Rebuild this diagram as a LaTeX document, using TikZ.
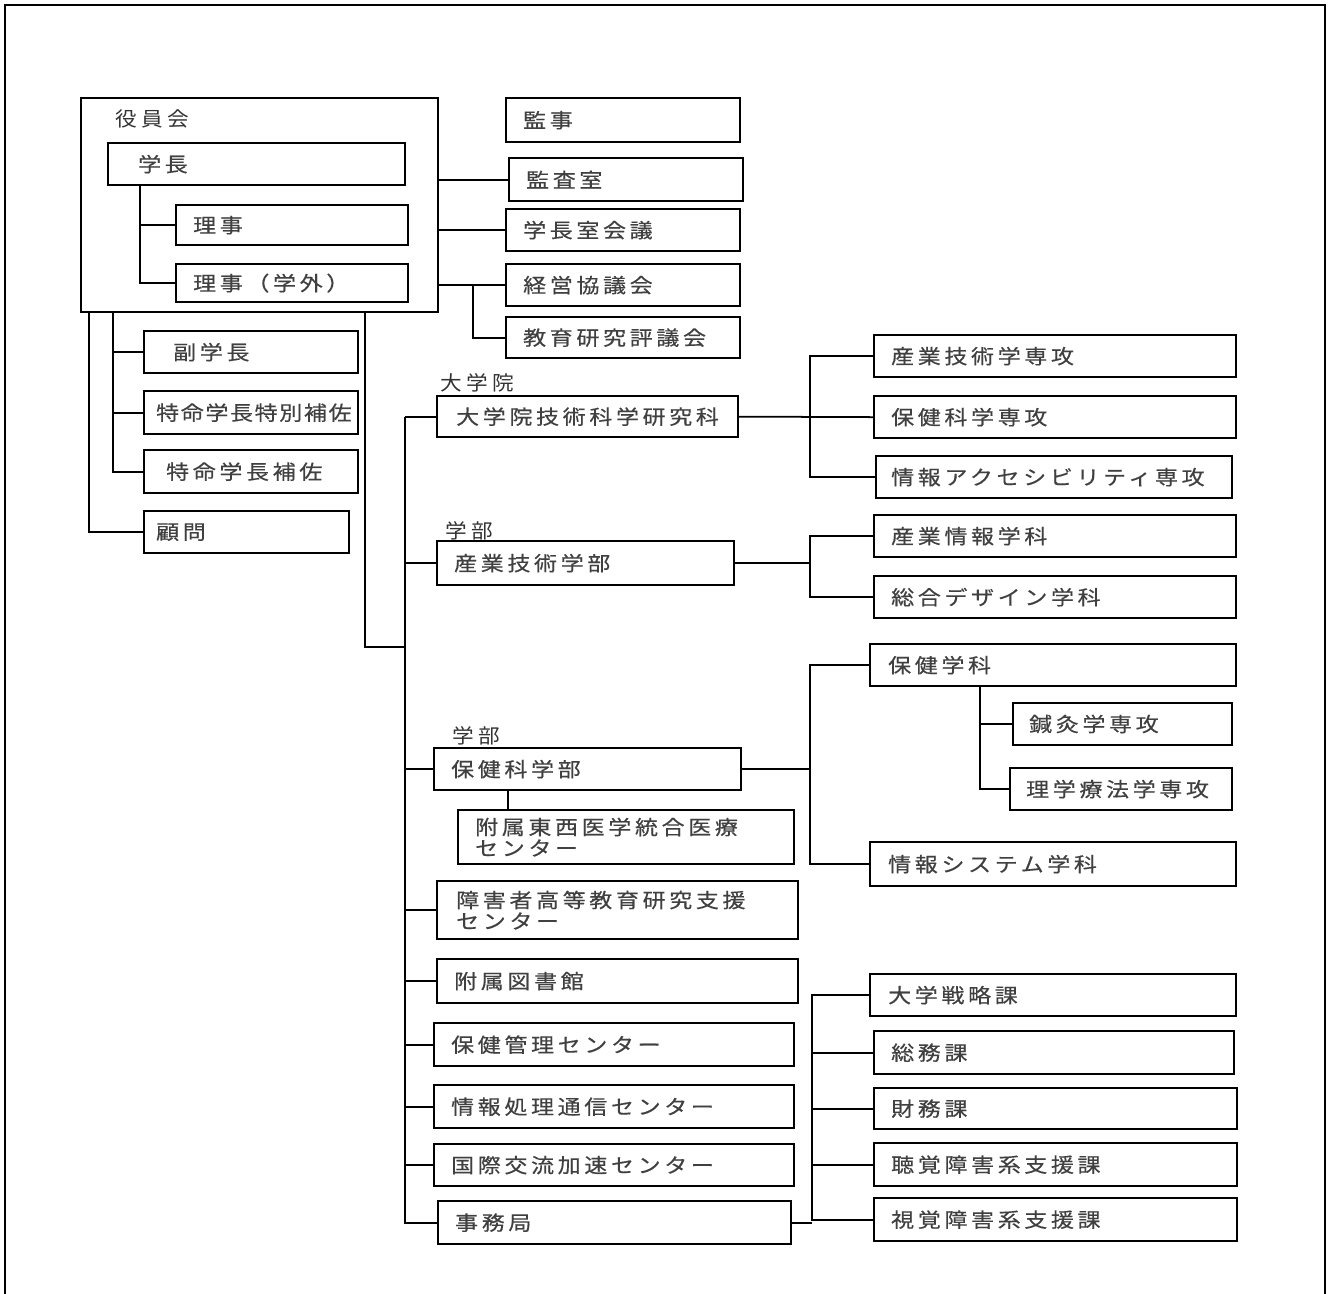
\documentclass[tikz,border=0pt]{standalone}
\usepackage{fontspec}
\newfontfamily\jp[LetterSpace=18, FakeStretch=1.15, FakeBold=0.4]{Noto Sans CJK JP}
\newfontfamily\jpn[LetterSpace=8, FakeStretch=1.15, FakeBold=0.4]{Noto Sans CJK JP}
\newfontfamily\jptag[LetterSpace=22, FakeStretch=1.08]{Noto Sans CJK JP}
\tikzset{
  orgbox/.style={draw, line width=1.3pt, anchor=north west, inner xsep=0.34cm, inner ysep=0pt,
    minimum height=0.84cm, text width=#1, align=left, text=black!75,
    font=\jp\fontsize{11.4pt}{12pt}\selectfont},
  outerbox/.style={draw, line width=1.3pt, anchor=north west},
  tag/.style={anchor=west, inner sep=0pt, text=black!80, font=\jptag\fontsize{11.4pt}{12pt}\selectfont},
  link/.style={line width=1pt}
}
\begin{document}
\begin{tikzpicture}[x=0.02cm, y=-0.02cm]
\useasboundingbox (0,0) rectangle (1328,1294);
\draw[line width=1.1pt] (5,1294) -- (5,5) -- (1325,5) -- (1325,1294);

% executive board
\node[outerbox, minimum width=7.14cm, minimum height=4.28cm] (yakuin) at (80,97) {};
\node[tag] (yakuintag) at (115,119) {役員会};
\node[orgbox=4.74cm, inner xsep=0.6cm] (gakucho) at (107,142) {学長};
\node[orgbox=3.96cm, minimum height=0.80cm] (riji) at (175,204) {理事};
\node[orgbox=3.96cm, minimum height=0.76cm] (gakugai) at (175,263) {理事（学外）};

\node[orgbox=4.00cm, minimum height=0.88cm] (kanji) at (505,97) {監事};
\node[orgbox=4.00cm, minimum height=0.86cm] (kansashitsu) at (508,157) {監査室};
\node[orgbox=4.00cm] (gakuchoshitsu) at (505,208) {学長室会議};
\node[orgbox=4.00cm] (keiei) at (505,263) {経営協議会};
\node[orgbox=4.00cm, minimum height=0.82cm] (kyoiku) at (505,316) {教育研究評議会};

\node[orgbox=3.12cm, inner xsep=0.58cm] (fuku) at (143,330) {副学長};
\node[orgbox=3.80cm, inner xsep=0.24cm, minimum height=0.86cm,
  font=\jpn\fontsize{11.4pt}{12pt}\selectfont] (tokubetsu) at (143,390) {特命学長特別補佐};
\node[orgbox=3.40cm, inner xsep=0.44cm, minimum height=0.86cm] (tokumei) at (143,449) {特命学長補佐};
\node[orgbox=3.62cm, inner xsep=0.24cm] (komon) at (143,510) {顧問};

% graduate school, faculties, centers
\node[tag] (intag) at (440,383) {大学院};
\node[orgbox=5.26cm, inner xsep=0.38cm, minimum height=0.82cm] (daigakuin) at (436,395) {大学院技術科学研究科};
\node[tag] (butag) at (445,531) {学部};
\node[orgbox=5.26cm, minimum height=0.88cm] (sangyo) at (436,540) {産業技術学部};
\node[tag] (butagb) at (452,736) {学部};
\node[orgbox=5.46cm] (hoken) at (433,747) {保健科学部};
\node[orgbox=6.04cm, minimum height=1.08cm] (fuzoku) at (457,809) {附属東西医学統合医療\\センター};
\node[orgbox=6.46cm, inner xsep=0.38cm, minimum height=1.16cm] (shogai) at (436,880) {障害者高等教育研究支援\\センター};
\node[orgbox=6.54cm, minimum height=0.88cm] (tosho) at (436,958) {附属図書館};
\node[orgbox=6.52cm, minimum height=0.86cm] (hokan) at (433,1022) {保健管理センター};
\node[orgbox=6.52cm, minimum height=0.86cm] (joho) at (433,1084) {情報処理通信センター};
\node[orgbox=6.52cm] (kokusai) at (433,1143) {国際交流加速センター};
\node[orgbox=6.38cm, minimum height=0.86cm] (jimu) at (437,1200) {事務局};

% majors and departments
\node[orgbox=6.56cm] (sangyogijutsu) at (873,334) {産業技術学専攻};
\node[orgbox=6.56cm] (hokenkagaku) at (873,395) {保健科学専攻};
\node[orgbox=6.52cm, inner xsep=0.30cm] (access) at (875,455) {情報アクセシビリティ専攻};
\node[orgbox=6.56cm] (sangyojoho) at (873,514) {産業情報学科};
\node[orgbox=6.56cm] (sogo) at (873,575) {総合デザイン学科};
\node[orgbox=6.60cm, inner xsep=0.36cm] (hokengakka) at (869,643) {保健学科};
\node[orgbox=3.74cm, inner xsep=0.32cm] (shinkyu) at (1012,702) {鍼灸学専攻};
\node[orgbox=3.80cm, inner xsep=0.32cm] (rigaku) at (1009,767) {理学療法学専攻};
\node[orgbox=6.60cm, inner xsep=0.36cm, minimum height=0.88cm] (jsys) at (869,841) {情報システム学科};

% offices
\node[orgbox=6.60cm, inner xsep=0.36cm] (senryaku) at (869,973) {大学戦略課};
\node[orgbox=6.52cm, inner xsep=0.34cm, minimum height=0.86cm] (somu) at (873,1030) {総務課};
\node[orgbox=6.58cm, minimum height=0.82cm] (zaimu) at (873,1087) {財務課};
\node[orgbox=6.58cm, minimum height=0.86cm] (chokaku) at (873,1142) {聴覚障害系支援課};
\node[orgbox=6.58cm, minimum height=0.86cm] (shikaku) at (873,1197) {視覚障害系支援課};

\coordinate (ta) at (89,0);
\coordinate (tb) at (113,0);
\coordinate (tc) at (365,0);
\coordinate (td) at (405,647);
\coordinate (te) at (140,0);
\coordinate (tf) at (473,0);
\coordinate (tg) at (508,0);
\coordinate (th) at (810,0);
\coordinate (ti) at (980,0);
\coordinate (tj) at (812,0);

\draw[link] (gakucho.south -| te) |- (gakugai.west);
\draw[link] (te |- riji.west) -- (riji.west);
\foreach \n in {kansashitsu, gakuchoshitsu, keiei}
  \draw[link] (yakuin.east |- \n.west) -- (\n.west);
\draw[link] (tf |- keiei.west) |- (kyoiku.west);

\draw[link] (yakuin.south -| ta) |- (komon.west);
\draw[link] (yakuin.south -| tb) |- (tokumei.west);
\foreach \n in {fuku, tokubetsu}
  \draw[link] (tb |- \n.west) -- (\n.west);
\draw[link] (yakuin.south -| tc) |- (td);

\draw[link] (td |- daigakuin.west) |- (jimu.west);
\foreach \n in {daigakuin, sangyo, hoken, shogai, tosho, hokan, joho, kokusai}
  \draw[link] (td |- \n.west) -- (\n.west);
\draw[link] (hoken.south -| tg) -- (fuzoku.north -| tg);

\draw[link] (sangyogijutsu.west) -| (th |- access.west) -- (access.west);
\draw[link] (daigakuin.east) -- (hokenkagaku.west);
\draw[link] (sangyojoho.west) -| (th |- sogo.west) -- (sogo.west);
\draw[link] (sangyo.east) -- (th |- sangyo.east);
\draw[link] (hokengakka.west) -| (th |- jsys.west) -- (jsys.west);
\draw[link] (hoken.east) -- (th |- hoken.east);
\draw[link] (hokengakka.south -| ti) |- (rigaku.west);
\draw[link] (ti |- shinkyu.west) -- (shinkyu.west);

\draw[link] (senryaku.west) -| (tj |- shikaku.west) -- (shikaku.west);
\foreach \n in {somu, zaimu, chokaku}
  \draw[link] (tj |- \n.west) -- (\n.west);
\draw[link] (jimu.east) -- (tj |- jimu.east);
\end{tikzpicture}
\end{document}
